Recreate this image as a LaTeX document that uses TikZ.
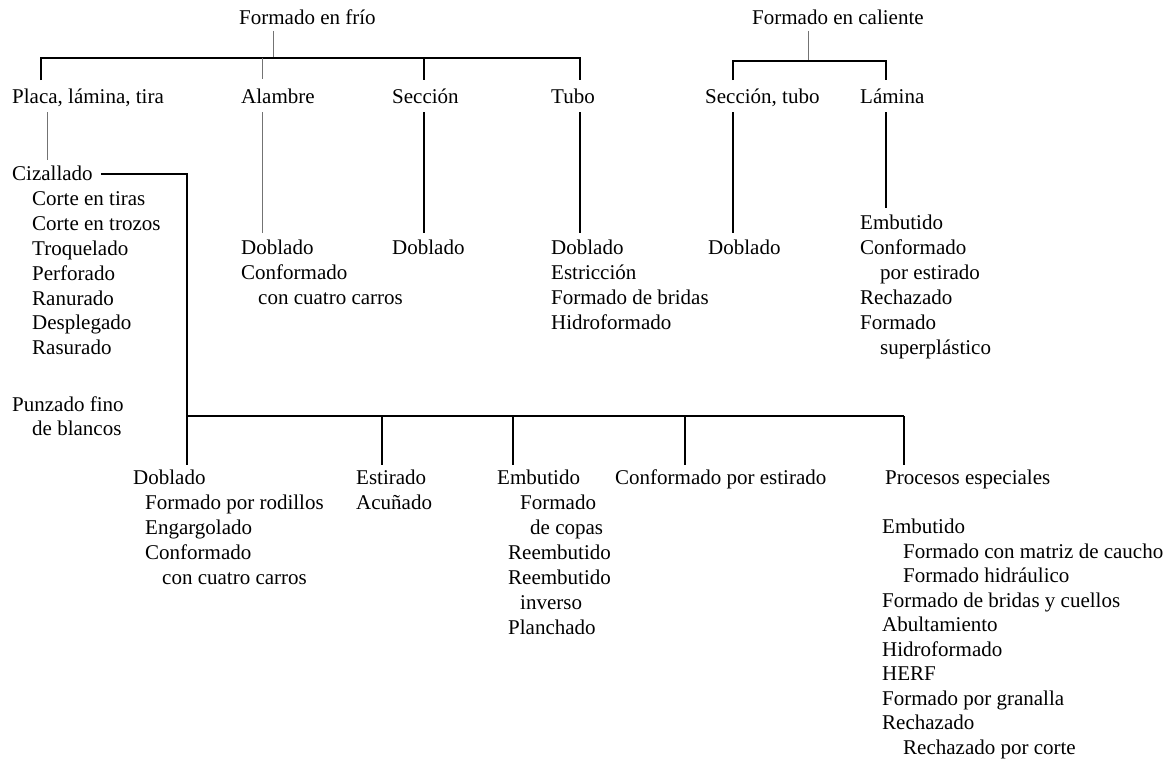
\documentclass[tikz,border=0pt]{standalone}
\usepackage{fontspec}
\setmainfont{Liberation Serif}
\begin{document}
\begin{tikzpicture}[x=1pt,y=-1pt,
  lbl/.style={anchor=mid west, inner sep=0pt, yshift=-4pt, font=\fontsize{21}{25}\selectfont},
  ln/.style={line width=1.6pt, black},
  lnmid/.style={line width=1.1pt, black},
  lnthin/.style={line width=0.8pt, black!55}]
\useasboundingbox (0,0) rectangle (1169,760);

% ---------- roots ----------
\node[lbl] (frio) at (239,18) {Formado en frío};
\node[lbl] (caliente) at (752,18) {Formado en caliente};

% ---------- cold forming: product forms ----------
\node[lbl] (placa) at (12,97) {Placa, lámina, tira};
\node[lbl] (alambre) at (241,97) {Alambre};
\node[lbl] (seccion) at (392,97) {Sección};
\node[lbl] (tubo) at (551,97) {Tubo};

% ---------- hot forming: product forms ----------
\node[lbl] (sectubo) at (705,97) {Sección, tubo};
\node[lbl] (lamina) at (860,97) {Lámina};

% ---------- sheet processes (cold) ----------
\node[lbl] (cizallado) at (12,174) {Cizallado};
\node[lbl] (ctiras) at (32,199) {Corte en tiras};
\node[lbl] (ctrozos) at (32,224) {Corte en trozos};
\node[lbl] (troquelado) at (32,249) {Troquelado};
\node[lbl] (perforado) at (32,274) {Perforado};
\node[lbl] (ranurado) at (32,299) {Ranurado};
\node[lbl] (desplegado) at (32,323) {Desplegado};
\node[lbl] (rasurado) at (32,348) {Rasurado};
\node[lbl] (punzado) at (12,405) {Punzado fino};
\node[lbl] (blancos) at (32,429) {de blancos};

% ---------- wire ----------
\node[lbl] (aldoblado) at (241,248) {Doblado};
\node[lbl] (alconf) at (241,273) {Conformado};
\node[lbl] (alcarros) at (258,298) {con cuatro carros};

% ---------- section ----------
\node[lbl] (secdoblado) at (392,248) {Doblado};

% ---------- tube ----------
\node[lbl] (tudoblado) at (551,248) {Doblado};
\node[lbl] (tuestr) at (551,273) {Estricción};
\node[lbl] (tubridas) at (551,298) {Formado de bridas};
\node[lbl] (tuhidro) at (551,323) {Hidroformado};

% ---------- hot: section, tube ----------
\node[lbl] (stdoblado) at (708,248) {Doblado};

% ---------- hot: sheet ----------
\node[lbl] (laembutido) at (860,223) {Embutido};
\node[lbl] (laconf) at (860,248) {Conformado};
\node[lbl] (laestirado) at (880,273) {por estirado};
\node[lbl] (larechazado) at (860,298) {Rechazado};
\node[lbl] (laformado) at (860,323) {Formado};
\node[lbl] (lasuper) at (880,348) {superplástico};

% ---------- sheet processes, lower row ----------
\node[lbl] (bdoblado) at (133,478) {Doblado};
\node[lbl] (brodillos) at (145,503) {Formado por rodillos};
\node[lbl] (bengarg) at (145,528) {Engargolado};
\node[lbl] (bconf) at (145,553) {Conformado};
\node[lbl] (bcarros) at (162,578) {con cuatro carros};

\node[lbl] (estirado) at (356,478) {Estirado};
\node[lbl] (acunado) at (356,503) {Acuñado};

\node[lbl] (embutido) at (497,478) {Embutido};
\node[lbl] (emformado) at (520,503) {Formado};
\node[lbl] (emcopas) at (530,528) {de copas};
\node[lbl] (reemb) at (508,553) {Reembutido};
\node[lbl] (reembinv) at (508,578) {Reembutido};
\node[lbl] (inverso) at (520,603) {inverso};
\node[lbl] (planchado) at (508,628) {Planchado};

\node[lbl] (confest) at (615,478) {Conformado por estirado};

\node[lbl] (especiales) at (885,478) {Procesos especiales};
\node[lbl] (espemb) at (882,527.5) {Embutido};
\node[lbl] (espcaucho) at (903,552) {Formado con matriz de caucho};
\node[lbl] (esphidraul) at (903,576.5) {Formado hidráulico};
\node[lbl] (espbridas) at (882,601) {Formado de bridas y cuellos};
\node[lbl] (espabult) at (882,625.5) {Abultamiento};
\node[lbl] (esphidro) at (882,650) {Hidroformado};
\node[lbl] (espherf) at (882,674.5) {HERF};
\node[lbl] (espgran) at (882,699) {Formado por granalla};
\node[lbl] (esprech) at (882,723.5) {Rechazado};
\node[lbl] (espcorte) at (903,748) {Rechazado por corte};

% ---------- bus and branch points ----------
\coordinate (fbus) at (273,58);
\coordinate (fTop) at (273,31);
\coordinate (fP) at (41,58);   \coordinate (fPe) at (41,80);
\coordinate (fA) at (262,58);  \coordinate (fAe) at (262,79);
\coordinate (fS) at (424,58);  \coordinate (fSe) at (424,80);
\coordinate (fT) at (580,58);  \coordinate (fTe) at (580,80);
\coordinate (hbus) at (808,61);
\coordinate (hTop) at (808,31);
\coordinate (hS) at (733,61);  \coordinate (hSe) at (733,80);
\coordinate (hL) at (886,61);  \coordinate (hLe) at (886,80);

% ---------- drops from product forms to process lists ----------
\coordinate (dP) at (47,112);  \coordinate (dPe) at (47,160);
\coordinate (dA) at (262,112); \coordinate (dAe) at (262,233);
\coordinate (dS) at (424,112); \coordinate (dSe) at (424,233);
\coordinate (dT) at (580,112); \coordinate (dTe) at (580,233);
\coordinate (dST) at (733,112); \coordinate (dSTe) at (733,233);
\coordinate (dL) at (886,112); \coordinate (dLe) at (886,208);

% ---------- lower bus ----------
\coordinate (sTop) at (187,174);
\coordinate (sbus) at (187,416);
\coordinate (sE) at (382,416);
\coordinate (sM) at (513,416);
\coordinate (sC) at (685,416);
\coordinate (sX) at (904,416);

% ---------- connectors: cold forming ----------
\draw[lnthin] (fTop) -- (fbus);
\draw[ln] (fPe) -- (fP) -- (fT) -- (fTe);
\draw[lnthin] (fA) -- (fAe);
\draw[ln] (fS) -- (fSe);

% ---------- connectors: hot forming ----------
\draw[lnthin] (hTop) -- (hbus);
\draw[ln] (hSe) -- (hS) -- (hL) -- (hLe);

% ---------- connectors: product forms to processes ----------
\draw[lnthin] (dP) -- (dPe);
\draw[lnthin] (dA) -- (dAe);
\draw[lnmid] (dS) -- (dSe);
\draw[lnmid] (dT) -- (dTe);
\draw[lnmid] (dST) -- (dSTe);
\draw[lnmid] (dL) -- (dLe);

% ---------- sheet bus ----------
\draw[ln] ([xshift=8pt]cizallado.east |- sTop) -- (sTop) -- (sbus) -- (sX);
\draw[ln] (sbus) -- (sbus |- 0,465);
\draw[ln] (sE) -- (sE |- 0,465);
\draw[lnmid] (sM) -- (sM |- 0,465);
\draw[ln] (sC) -- (sC |- 0,465);
\draw[ln] (sX) -- (sX |- 0,465);
\end{tikzpicture}
\end{document}
